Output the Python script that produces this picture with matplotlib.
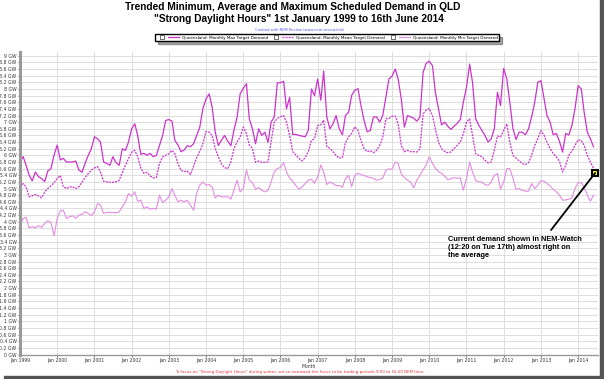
import matplotlib
matplotlib.use('Agg')
from matplotlib import pyplot as plt
from matplotlib.lines import Line2D
from matplotlib.patches import Rectangle
from matplotlib.legend_handler import HandlerTuple
import pandas as pd

# monthly values in GW, Jan 1999 .. Jun 2014
max_demand = [
    5.81, 5.96, 5.71, 5.40, 5.23, 5.50, 5.36, 5.30, 5.21, 5.53, 5.60, 6.00,
    6.31, 5.86, 5.91, 5.80, 5.80, 5.80, 5.83, 5.56, 5.49, 5.76, 6.00, 6.20,
    6.56, 6.50, 6.40, 5.80, 5.76, 5.70, 5.96, 5.78, 5.70, 6.20, 6.15, 6.40,
    6.80, 6.95, 6.60, 6.03, 6.06, 6.00, 6.06, 5.96, 6.00, 6.30, 6.60, 7.05,
    7.08, 7.03, 6.45, 6.31, 6.11, 6.16, 6.29, 6.26, 6.35, 6.60, 6.85, 7.40,
    7.70, 7.85, 7.45, 6.70, 6.30, 6.45, 6.60, 6.43, 6.29, 6.75, 7.15, 7.85,
    8.02, 8.16, 7.10, 6.80, 6.35, 6.80, 6.60, 6.70, 6.39, 7.00, 7.16, 8.18,
    8.19, 8.23, 7.40, 7.75, 6.63, 6.63, 6.60, 6.58, 6.56, 6.75, 8.00, 7.80,
    8.30, 7.66, 8.54, 7.15, 6.80, 6.95, 7.20, 6.80, 6.62, 7.20, 7.30, 7.81,
    7.96, 8.01, 7.50, 7.05, 6.71, 6.75, 7.15, 7.16, 7.00, 7.20, 7.75, 8.30,
    8.39, 8.60, 8.30, 7.70, 6.85, 7.20, 7.16, 7.12, 7.03, 7.15, 8.50, 8.77,
    8.84, 8.70, 7.91, 7.41, 6.92, 7.00, 6.88, 6.78, 6.88, 6.96, 7.08, 7.60,
    8.05, 8.75, 8.20, 7.10, 6.91, 6.75, 6.60, 6.40, 6.50, 6.80, 7.90, 7.50,
    8.62, 8.30, 7.60, 6.81, 6.48, 6.70, 6.70, 6.62, 6.80, 7.15, 7.60, 8.20,
    8.25, 7.70, 7.20, 7.00, 6.62, 6.66, 6.43, 6.10, 6.66, 6.61, 6.90, 7.40,
    8.10, 8.00, 7.30, 6.70, 6.50, 6.26,
]
mean_demand = [
    5.05, 5.15, 5.05, 4.75, 4.78, 4.82, 4.78, 4.72, 4.90, 5.00, 5.08, 5.18,
    5.30, 5.39, 5.05, 5.00, 5.05, 5.05, 5.00, 5.05, 5.20, 5.33, 5.45, 5.55,
    5.62, 5.66, 5.50, 5.22, 5.20, 5.19, 5.19, 5.20, 5.25, 5.48, 5.70, 5.90,
    6.10, 6.15, 5.97, 5.61, 5.46, 5.49, 5.38, 5.32, 5.33, 5.75, 5.95, 6.00,
    6.05, 6.15, 6.05, 5.75, 5.55, 5.51, 5.53, 5.42, 5.68, 5.93, 6.12, 6.35,
    6.72, 6.70, 6.60, 6.20, 5.95, 5.74, 5.63, 5.60, 5.80, 6.20, 6.41, 6.55,
    6.85, 6.66, 6.31, 6.21, 5.79, 5.83, 5.79, 5.79, 5.81, 6.41, 7.00, 7.11,
    7.16, 7.20, 7.00, 6.60, 6.11, 6.01, 5.91, 5.83, 5.93, 6.11, 6.45, 6.50,
    6.90, 6.92, 7.06, 6.26, 6.21, 6.11, 5.99, 5.92, 5.93, 6.39, 6.56, 6.66,
    6.86, 6.75, 6.45, 6.20, 6.11, 6.14, 6.08, 6.15, 6.30, 6.55, 7.10, 7.11,
    7.18, 7.18, 6.95, 6.30, 6.11, 6.15, 6.11, 6.11, 6.10, 6.20, 7.25, 7.36,
    7.41, 7.20, 6.80, 6.40, 6.20, 6.12, 6.08, 6.10, 6.20, 6.30, 6.40, 6.65,
    7.00, 7.10, 6.61, 6.05, 6.00, 5.96, 5.85, 5.77, 5.80, 6.16, 6.58, 6.55,
    6.75, 6.95, 6.40, 6.00, 5.92, 5.83, 5.76, 5.72, 5.78, 6.00, 6.30, 6.50,
    6.75, 6.60, 6.40, 6.20, 6.06, 5.95, 5.83, 5.50, 5.70, 6.00, 6.13, 6.30,
    6.47, 6.45, 6.30, 6.00, 5.80, 5.61,
]
min_demand = [
    3.90, 4.10, 4.13, 3.82, 3.85, 3.82, 3.88, 3.83, 3.95, 4.03, 3.98, 3.58,
    4.10, 4.33, 4.35, 4.10, 4.15, 4.18, 4.10, 4.20, 4.22, 4.30, 4.25, 4.18,
    4.30, 4.55, 4.50, 4.25, 4.28, 4.28, 4.28, 4.27, 4.30, 4.45, 4.60, 4.85,
    4.77, 4.90, 4.62, 4.65, 4.40, 4.45, 4.38, 4.40, 4.38, 4.80, 4.58, 4.65,
    4.75, 5.00, 4.80, 4.60, 4.65, 4.60, 4.65, 4.50, 4.35, 4.85, 5.10, 5.20,
    5.10, 5.12, 5.05, 4.72, 4.80, 4.75, 4.75, 4.75, 4.68, 4.95, 5.25, 4.90,
    5.00, 5.56, 5.25, 5.18, 4.98, 5.03, 4.95, 4.90, 4.95, 5.20, 5.50, 5.60,
    5.64, 5.78, 5.50, 5.31, 5.22, 5.09, 4.98, 5.05, 5.15, 5.25, 5.28, 5.16,
    5.35, 5.71, 5.50, 5.12, 5.20, 5.15, 5.09, 5.09, 5.04, 5.30, 5.40, 5.06,
    5.40, 5.46, 5.42, 5.39, 5.36, 5.33, 5.31, 5.25, 5.28, 5.31, 5.55, 5.59,
    5.59, 5.80, 5.76, 5.44, 5.33, 5.25, 5.20, 5.02, 5.25, 5.41, 5.56, 5.71,
    5.96, 5.76, 5.61, 5.51, 5.46, 5.37, 5.27, 5.30, 5.33, 5.31, 5.32, 4.95,
    5.30, 5.80, 5.50, 5.25, 5.20, 5.20, 5.12, 5.10, 5.20, 5.40, 5.45, 4.98,
    5.20, 5.60, 5.60, 5.31, 4.98, 5.00, 4.95, 4.92, 4.92, 5.15, 5.00, 5.10,
    5.24, 5.22, 5.15, 5.08, 4.98, 4.90, 4.80, 4.65, 4.66, 4.68, 4.72, 5.00,
    5.18, 5.18, 5.03, 4.80, 4.62, 4.80,
]
months = pd.date_range('1999-01-01', periods=len(max_demand), freq='MS')
year_ticks = pd.date_range('1999-01-01', '2014-01-01', freq='YS')
gw_ticks = [i / 5 for i in range(46)]

# NEM-Watch reading at 12:20 Tue 17 June 2014
watch_time = pd.Timestamp('2014-06-17')
watch_value = 5.47

fig = plt.figure(figsize=(6.04, 3.79), dpi=100)
ax = fig.add_axes([20 / 604, 0.0646, 578 / 604, 0.797])

ax.plot(months, max_demand, color='#CC33CC', lw=0.9)
ax.plot(months, mean_demand, color='#CC33CC', lw=0.9, ls=(0, (1.6, 0.9)))
ax.plot(months, min_demand, color='#E38BE3', lw=0.8)

ax.set_xlim(pd.Timestamp('1999-01-01'), pd.Timestamp('2014-07-15'))
ax.set_ylim(0, 9.1)
ax.set_yticks(gw_ticks)
ax.set_yticklabels(['%g GW' % v for v in gw_ticks])
ax.set_xticks(year_ticks)
ax.set_xticklabels(['Jan %d' % d.year for d in year_ticks])
ax.tick_params(axis='both', labelsize=3.3, colors='#333333', length=1.5, width=0.5, pad=1)
ax.set_xlabel('Month', fontsize=3.3, color='#333333', labelpad=1)
ax.grid(True, color='#DDDDDD', lw=0.7)
ax.set_axisbelow(True)
for side in ['top', 'right']:
    ax.spines[side].set_visible(False)
ax.spines['left'].set_color('#999999')
ax.spines['left'].set_linewidth(2.2)
ax.spines['bottom'].set_color('#999999')
ax.spines['bottom'].set_linewidth(1)

# annotation for the current demand point
ax.annotate('', xy=(watch_time, watch_value), xytext=(pd.Timestamp('2013-04-10'), 3.75),
            arrowprops=dict(arrowstyle='-', lw=1.3, color='black', shrinkA=0, shrinkB=0))
ax.plot([watch_time], [watch_value], marker='s', ms=5, mfc='#FFFF00', mec='black', mew=1.5,
        clip_on=False)
ax.text(pd.Timestamp('2010-07-01'), 3.56,
        'Current demand shown in NEM-Watch\n(12:20 on Tue 17th) almost right on\nthe average',
        fontsize=5.3, fontweight='bold', family='Liberation Sans', va='top', ha='left',
        linespacing=1.15)

# titles and notes
fig.text(292.5 / 604, 1 - 7.5 / 379, 'Trended Minimum, Average and Maximum Scheduled Demand in QLD',
         ha='center', va='center', fontsize=7.3, fontweight='bold', family='Liberation Sans')
fig.text(299 / 604, 1 - 19.5 / 379, '"Strong Daylight Hours" 1st January 1999 to 16th June 2014',
         ha='center', va='center', fontsize=7.3, fontweight='bold', family='Liberation Sans')
fig.text(300 / 604, 1 - 30 / 379, 'Created with NEM-Review (www.nem-review.info)',
         ha='center', va='center', fontsize=2.6, color='#5555EE')
fig.text(300 / 604, 1 - 372 / 379,
         'To focus on "Strong Daylight Hours" during winter, we\'ve narrowed the focus to be '
         'trading periods 9:00 to 16:00 NEM time.',
         ha='center', va='center', fontsize=2.9, color='#EE3333')

# legend with checkbox in front of each line sample
box = Line2D([], [], marker='s', ms=2.3, mfc='white', mec='black', mew=0.4, ls='none')
h_max = Line2D([], [], color='#CC33CC', lw=0.9)
h_mean = Line2D([], [], color='#CC33CC', lw=0.9, ls=(0, (1.6, 0.9)))
h_min = Line2D([], [], color='#E38BE3', lw=0.8)
fig.legend([(box, h_max), (box, h_mean), (box, h_min)],
           ['Queensland: Monthly Max Target Demand',
            'Queensland: Monthly Mean Target Demand',
            'Queensland: Monthly Min Target Demand'],
           handler_map={tuple: HandlerTuple(ndivide=None, pad=0.2)},
           loc='center', bbox_to_anchor=(327 / 604, 1 - 37.5 / 379), ncol=3,
           fontsize=3, handlelength=5.5, handletextpad=0.6, columnspacing=0.6,
           borderpad=0.3, frameon=True, fancybox=False, shadow=True,
           edgecolor='black', framealpha=1)

# drop shadow along right and bottom edges
fig.patches.append(Rectangle((600 / 604, 0), 4 / 604, 1, transform=fig.transFigure,
                             color='#555555', zorder=0))
fig.patches.append(Rectangle((4 / 604, 0), 600 / 604, 3 / 379, transform=fig.transFigure,
                             color='#555555', zorder=0))

fig.savefig('out.png', dpi=100)
